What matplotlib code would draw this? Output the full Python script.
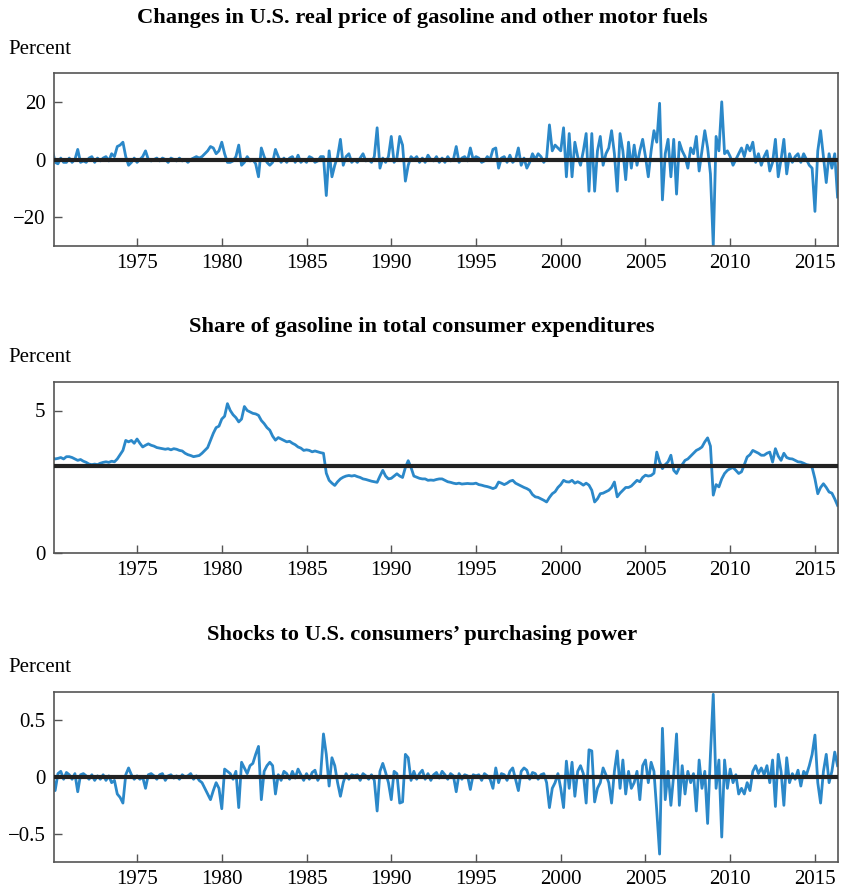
import numpy as np
import matplotlib
matplotlib.use("Agg")
import matplotlib.pyplot as plt

# bimonthly observations, 1970 Jan .. 2016 May (6 per year)
start_year = 1970

price_change = [
    3.5, -1, -1.5, 0.5, -1, -1,        # 1970
    0.5, -1, 0, 3.5, -1, -0.5,         # 1971
    -1, 0.5, 1, -1, 0.5, -0.5,         # 1972
    0.5, 1, -0.5, 2, 1, 4.5,           # 1973
    5, 6, 1, -2, -1, 0.5,              # 1974
    -1, 0, 1, 3, 0, -0.5,              # 1975
    0, 0.5, -0.5, 0.5, 0, -1,          # 1976
    0.5, 0, -0.5, 0.5, -0.5, 0,        # 1977
    -1, 0, 0.5, 1, 0.5, 1,             # 1978
    2, 3, 4.5, 4, 2, 3,                # 1979
    6, 2, -1, -1, -0.5, 1,             # 1980
    5, -2, -1, 1, -0.5, 0,             # 1981
    -1.5, -6, 4, 1, -1, -2,            # 1982
    -1, 3.5, 1, -1, 0.5, -1,           # 1983
    0.5, 1, -1, 1.5, -1, 0,            # 1984
    -1, 1, 0.5, -1, -0.5, 1,           # 1985
    1, -12.5, 3, -6, -2, 1,            # 1986
    7, -2, 1, 2, -1, 0,                # 1987
    -1, 0.5, 2, -0.5, 0, -1,           # 1988
    1, 11, -3, 0.5, -1, 1,             # 1989
    8, -1, 0.5, 8, 5, -7.5,            # 1990
    -2, 1, 0, 1, -1, 0.5,              # 1991
    -1, 1.5, 0, -0.5, 1, -1,           # 1992
    0.5, -1, 1, -0.5, 0, 4.5,          # 1993
    -1, 0.5, 1, -0.5, 4, 0,            # 1994
    1, 0.5, -1, -0.5, 1, 0,            # 1995
    3.5, 4, -3, 0.5, 1, -1,            # 1996
    1.5, -1, 0, 4, -2, 0.5,            # 1997
    -3, -1, 2, 0, 2, 1,                # 1998
    -1, 0.5, 12, 3, 5, 4,              # 1999
    3, 11, -6, 9, -6, 6,               # 2000
    1, -2, 3, 9, -11, 9,               # 2001
    -11, 3, 8, -2, 2, 4,               # 2002
    10, 2, -11, 9, 3, -7,              # 2003
    6, -3, 5, -2, 3, 7,                # 2004
    1, -6, 3, 10, 6, 19.5,             # 2005
    -14, 2, 7, -6, 7, -12,             # 2006
    6, 3, 1, -3, 4, 2,                 # 2007
    8, -4, 3, 10, 4, -5,               # 2008
    -30, 8, 3, 20, 2, 3,               # 2009
    1, -2, 0, 2, 4, 1,                 # 2010
    5, 3, 6, -1, 2, -2,                # 2011
    1, 3, -4, -1, 7, -6,               # 2012
    0, 7, -5, 2, -1, 1,                # 2013
    2, -1, 2, 0, -2, -3,               # 2014
    -18, 3, 10, 1, -8, 2,              # 2015
    -3, 2, -13,                        # 2016
]

gas_share = [
    3.35, 3.3, 3.32, 3.35, 3.3, 3.38,
    3.38, 3.35, 3.3, 3.25, 3.28, 3.22,
    3.18, 3.12, 3.1, 3.12, 3.1, 3.15,
    3.18, 3.2, 3.18, 3.22, 3.2, 3.3,
    3.45, 3.6, 3.95, 3.9, 3.95, 3.85,
    4.0, 3.85, 3.72, 3.78, 3.83, 3.78,
    3.75, 3.7, 3.68, 3.66, 3.64, 3.66,
    3.62, 3.66, 3.64, 3.6, 3.58, 3.5,
    3.45, 3.42, 3.38, 3.4, 3.42, 3.5,
    3.6, 3.7, 3.95, 4.2, 4.4, 4.45,
    4.7, 4.8, 5.24, 5.0, 4.85, 4.75,
    4.6, 4.7, 5.14, 5.0, 4.95, 4.9,
    4.88, 4.83, 4.65, 4.54, 4.4, 4.31,
    4.1, 3.96, 4.05, 4.0, 3.95, 3.9,
    3.92, 3.85, 3.8, 3.72, 3.68, 3.6,
    3.62, 3.6, 3.55, 3.58, 3.55, 3.52,
    3.5, 2.8, 2.55, 2.45, 2.37, 2.5,
    2.6, 2.66, 2.7, 2.72, 2.7, 2.72,
    2.68, 2.65, 2.6, 2.58, 2.55, 2.52,
    2.5, 2.48, 2.7, 2.9, 2.7, 2.6,
    2.62, 2.7, 2.78, 2.7, 2.65, 3.0,
    3.24, 3.0, 2.7, 2.66, 2.62, 2.6,
    2.6, 2.55, 2.56, 2.55, 2.58, 2.6,
    2.6, 2.55, 2.5, 2.48, 2.45, 2.43,
    2.45, 2.42, 2.43, 2.44, 2.43, 2.43,
    2.45, 2.4, 2.38, 2.35, 2.33, 2.3,
    2.26, 2.3, 2.49, 2.45, 2.4, 2.45,
    2.52, 2.55, 2.45, 2.4, 2.35, 2.3,
    2.26, 2.2, 2.05, 1.97, 1.95, 1.9,
    1.85, 1.79, 1.95, 2.08, 2.15, 2.3,
    2.4, 2.55, 2.5, 2.49, 2.55, 2.45,
    2.5, 2.45, 2.38, 2.45, 2.38, 2.2,
    1.79, 1.9, 2.08, 2.1, 2.15, 2.2,
    2.3, 2.49, 1.97, 2.1, 2.2, 2.3,
    2.3, 2.35, 2.45, 2.55, 2.5, 2.65,
    2.73, 2.7, 2.72, 2.8, 3.54, 3.2,
    2.96, 3.1, 3.2, 3.43, 2.9, 2.79,
    3.0, 3.1, 3.25, 3.3, 3.4, 3.5,
    3.6, 3.65, 3.72, 3.9, 4.04, 3.75,
    2.03, 2.4, 2.32, 2.6, 2.79, 2.9,
    2.96, 3.0, 2.9, 2.79, 2.85, 3.1,
    3.37, 3.45, 3.6, 3.55, 3.5, 3.43,
    3.43, 3.5, 3.54, 3.19, 3.66, 3.4,
    3.25, 3.5, 3.35, 3.31, 3.3, 3.25,
    3.2, 3.19, 3.15, 3.1, 3.08, 3.0,
    2.6, 2.08, 2.3, 2.43, 2.3, 2.14,
    2.1, 1.9, 1.67,
]
share_mean = 3.04

shocks = [
    0.05, -0.12, 0.03, 0.05, -0.02, 0.04,
    0.02, -0.02, 0.03, -0.13, 0.02, 0.03,
    0.01, -0.02, 0.02, -0.03, 0.01, -0.02,
    0.02, -0.03, 0.01, -0.05, -0.03, -0.15,
    -0.18, -0.23, 0.02, 0.08, 0.02, -0.02,
    0.01, -0.02, 0.0, -0.1, 0.02, 0.03,
    0.01, -0.02, 0.02, 0.03, -0.03, 0.01,
    0.02, -0.01, 0.01, -0.02, 0.02, 0.0,
    0.01, 0.03, -0.02, 0.01, -0.03, -0.05,
    -0.1, -0.15, -0.2, -0.12, -0.05, -0.1,
    -0.28, 0.07, 0.05, 0.03, -0.02, 0.05,
    -0.27, 0.13, 0.08, 0.03, 0.1, 0.12,
    0.2, 0.27, -0.2, 0.05, 0.1, 0.13,
    0.1, -0.15, 0.02, -0.03, 0.05, 0.03,
    -0.02, 0.05, -0.01, 0.07, 0.02, -0.03,
    0.03, -0.02, 0.04, 0.06, -0.03, 0.02,
    0.38, 0.2, -0.08, 0.17, 0.1, -0.05,
    -0.17, -0.05, 0.03, -0.02, 0.02, 0.01,
    0.02, -0.03, 0.03, 0.01, -0.02, 0.02,
    -0.03, -0.3, 0.05, 0.12, 0.04, -0.05,
    -0.2, 0.05, 0.03, -0.23, -0.22, 0.2,
    0.17, -0.03, 0.05, -0.02, 0.03, 0.06,
    -0.02, 0.03, -0.03, 0.02, 0.04, -0.01,
    0.05, 0.02, -0.02, 0.03, 0.01, -0.13,
    0.03, -0.02, 0.02, 0.01, -0.11, 0.02,
    0.01, 0.02, -0.03, 0.03, 0.01, -0.02,
    -0.1, 0.08, -0.05, 0.03, 0.02, -0.03,
    0.05, 0.08, -0.02, -0.12, 0.05, 0.08,
    0.06, -0.02, 0.04, 0.03, -0.02, 0.02,
    0.03, -0.05, -0.27, -0.1, -0.05, 0.03,
    -0.1, -0.27, 0.14, -0.1, 0.13, -0.17,
    0.05, 0.1, 0.03, -0.23, 0.24, 0.23,
    -0.22, -0.1, -0.05, 0.08, 0.02, -0.05,
    -0.23, 0.05, 0.23, -0.1, 0.15, -0.15,
    0.05, -0.1, -0.05, 0.05, -0.2, 0.1,
    0.15, -0.05, 0.13, 0.05, -0.3, -0.68,
    0.43, -0.2, 0.05, -0.25, 0.02, 0.38,
    -0.25, 0.1, -0.15, 0.05, -0.05, 0.03,
    -0.3, 0.15, -0.1, 0.05, -0.41, 0.2,
    0.73, -0.1, 0.15, -0.53, 0.15, -0.1,
    0.07, -0.05, 0.02, -0.15, -0.1, -0.15,
    -0.05, -0.12, 0.05, 0.1, 0.03, 0.08,
    0.02, 0.1, -0.05, 0.15, -0.26, 0.2,
    0.05, -0.25, 0.17, -0.05, 0.03, -0.02,
    0.06, -0.08, 0.05, 0.02, 0.1, 0.2,
    0.37, -0.05, -0.23, 0.05, 0.2, -0.05,
    0.05, 0.22, 0.1,
]

titles = ["Changes in U.S. real price of gasoline and other motor fuels",
          "Share of gasoline in total consumer expenditures",
          "Shocks to U.S. consumers\u2019 purchasing power"]
year_ticks = [1975, 1980, 1985, 1990, 1995, 2000, 2005, 2010, 2015]

plt.rcParams['font.family'] = ['Liberation Serif', 'DejaVu Serif']

W, H = 841, 891
fig = plt.figure(figsize=(W / 100, H / 100), dpi=100)

blue = '#2b88c9'
spine_col = '#555555'

panels = [
    # (data, ylim, yticks, ylabels, hline, top_px, bot_px, title_y, pct_y)
    (price_change, (-30, 30), [-20, 0, 20], ['\u221220', '0', '20'], 0.0, 73, 246, 18, 50),
    (gas_share, (0, 6), [0, 5], ['0', '5'], share_mean, 382, 553, 327, 358),
    (shocks, (-0.75, 0.75), [-0.5, 0, 0.5], ['\u22120.5', '0', '0.5'], 0.0, 692, 862, 635, 668),
]

left_px, right_px = 54, 838
for i, (data, ylim, yt, ylab, hval, top, bot, ty, py) in enumerate(panels):
    ax = fig.add_axes([left_px / W, 1 - bot / H, (right_px - left_px) / W, (bot - top) / H])
    t = start_year + np.arange(len(data)) / 6.0
    ax.plot(t, data, color=blue, lw=2.0, zorder=2)
    ax.axhline(hval, color='#222222', lw=3.0, zorder=3)
    ax.set_xlim(1970.1, 2016.36)
    ax.set_ylim(*ylim)
    ax.set_xticks(year_ticks)
    ax.set_xticklabels([str(y) for y in year_ticks])
    ax.set_yticks(yt)
    ax.set_yticklabels(ylab)
    ax.tick_params(direction='in', length=6, width=1, colors=spine_col,
                   labelcolor='black', labelsize=15, pad=6,
                   top=False, right=False)
    for s in ax.spines.values():
        s.set_color(spine_col)
        s.set_linewidth(1.2)
    fig.text(422 / W, 1 - ty / H, titles[i], ha='center', va='center',
             fontsize=16.2, fontweight='bold')
    fig.text(8 / W, 1 - py / H, 'Percent', ha='left', va='center', fontsize=15)

fig.savefig('out.png', dpi=100)
